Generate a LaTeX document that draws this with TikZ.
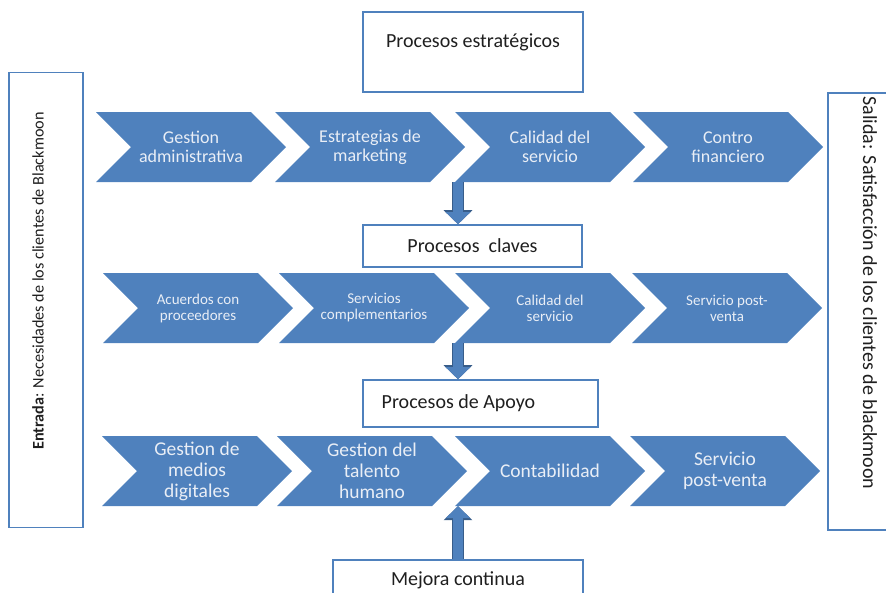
\documentclass[tikz,border=0pt]{standalone}
\usepackage{fontspec}
\setmainfont{Carlito}
\usepackage{xcolor}
\usepackage{tikz}
\usetikzlibrary{arrows.meta,positioning,shapes.symbols}
\definecolor{bmBlue}{HTML}{4F81BD}
\definecolor{bmDark}{HTML}{385D8A}
\definecolor{bmInk}{HTML}{1F1F1F}
\definecolor{bmPale}{HTML}{E9EEF6}
\tikzset{
  bm diagram/.style={x=1pt, y=-1pt, text=bmInk},
  bm chevron/.style={signal, signal to=east, signal from=west,
    signal pointer angle=90, fill=bmBlue, draw=none,
    minimum width=190, minimum height=70, inner sep=0pt,
    text=bmPale, align=center},
  bm box/.style={draw=bmBlue, fill=white, line width=1.6pt, inner sep=0pt},
  bm boxtext/.style={font=\fontsize{20}{23}\selectfont},
  bm flow/.style={draw=bmBlue, line width=10pt,
    -{Triangle[width=24pt,length=12pt]},
    preaction={draw=bmDark, line width=12.5pt,
      -{Triangle[width=28pt,length=14pt]}}},
  bm rowA/.style={font=\fontsize{18}{19}\selectfont},
  bm rowB/.style={font=\fontsize{15}{16}\selectfont},
  bm rowC/.style={font=\fontsize{19.5}{21}\selectfont}
}
\begin{document}
\begin{tikzpicture}[bm diagram]
\useasboundingbox (0,0) rectangle (886,592);
% side boxes
\node[bm box, minimum width=74, minimum height=455] (entrada) at (46,300) {};
\node[rotate=90, font=\fontsize{16.2}{18}\selectfont] (entradatxt) at (38,281)
  {\textbf{Entrada}: Necesidades de los clientes de Blackmoon};
\node[bm box, minimum width=72, minimum height=437] (salida) at (864,311.5) {};
\node[rotate=-90, font=\fontsize{20}{22}\selectfont] (salidatxt) at (870,293)
  {Salida: Satisfacción de los clientes de blackmoon};
% process boxes
\node[bm box, minimum width=220, minimum height=80,
  label={[bm boxtext, anchor=north, yshift=-19pt]north:Procesos estratégicos}]
  (estrategicos) at (473,52) {};
\node[bm box, bm boxtext, minimum width=219, minimum height=42]
  (claves) at (472.5,246) {Procesos\ \ claves};
\node[bm box, minimum width=235, minimum height=47,
  label={[bm boxtext, anchor=west, xshift=16pt]west:Procesos de Apoyo}]
  (apoyo) at (480.5,403.5) {};
\node[bm box, bm boxtext, minimum width=250, minimum height=40]
  (mejora) at (458,580) {Mejora continua};
% row 1: strategic
\foreach \x/\t [count=\i] in {191/Gestion\\administrativa,
    370/Estrategias de\\marketing, 550/Calidad del\\servicio,
    728/Contro\\financiero}
  \node[bm chevron, bm rowA] (r1c\i) at (\x,147) {\t};
% row 2: key
\foreach \x/\t [count=\i] in {198/Acuerdos con\\proceedores,
    374/Servicios\\complementarios, 550/Calidad del\\servicio,
    727/Servicio post-\\venta}
  \node[bm chevron, bm rowB] (r2c\i) at (\x,308) {\t};
% row 3: support
\foreach \x/\t [count=\i] in {197/Gestion de\\medios\\digitales,
    372/Gestion del\\talento\\humano, 550/Contabilidad,
    725/Servicio\\post-venta}
  \node[bm chevron, bm rowC] (r3c\i) at (\x,471) {\t};
% flow between levels
\draw[bm flow] (458,0 |- r1c3.south) -- (458,0 |- claves.north);
\draw[bm flow] (458,0 |- r2c3.south) -- (458,0 |- apoyo.north);
\draw[bm flow] (458,0 |- mejora.north) -- (458,0 |- r3c3.south);
\end{tikzpicture}
\end{document}
